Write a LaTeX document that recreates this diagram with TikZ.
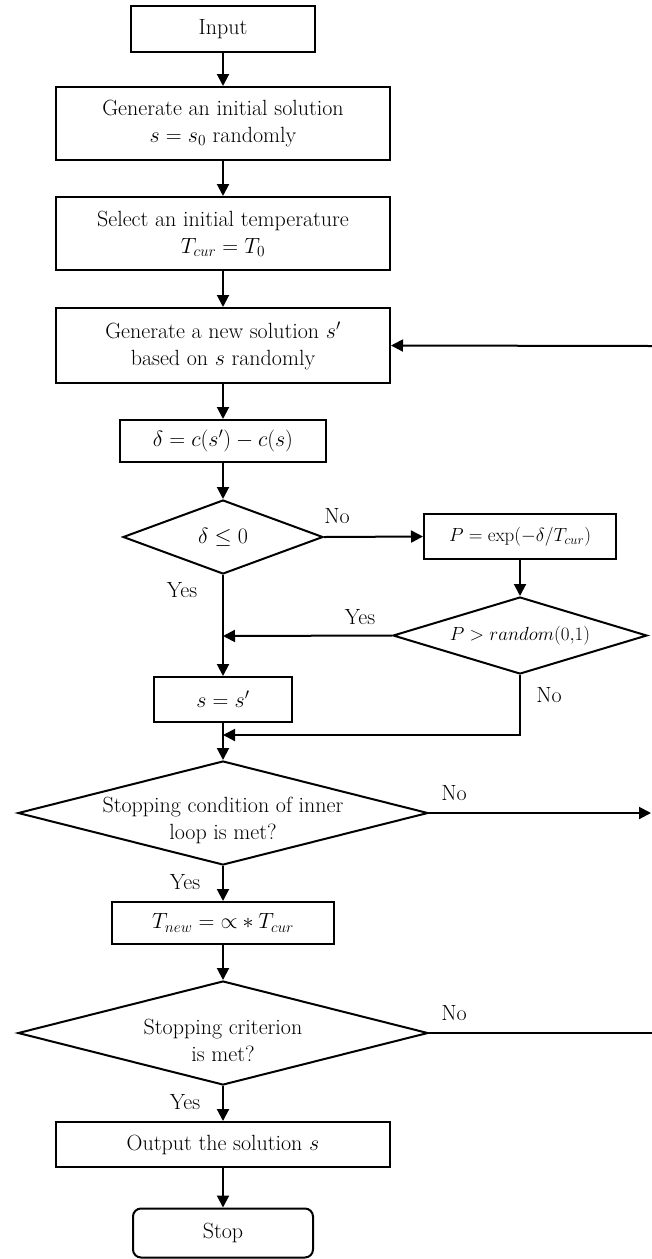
\documentclass[tikz,border=0pt]{standalone}
\usepackage{fix-cm}
\usepackage{fontspec}
\usetikzlibrary{arrows.meta,shapes.geometric}
\newcommand{\fs}{\fontsize{22}{27}\selectfont}
\newcommand{\fss}{\fontsize{19}{22}\selectfont}
\begin{document}
\begin{tikzpicture}[x=1pt,y=-1pt,line width=2pt,
  >={Triangle[length=12pt,width=12pt]},
  box/.style={draw,rectangle,inner sep=0pt,align=center,font=\fs},
  dia/.style={draw,diamond,inner sep=0pt},
  lbl/.style={font=\fs,inner sep=0pt,align=center},
  arr/.style={->}]
\useasboundingbox (0,0) rectangle (652,1259);
% nodes
\node[box,minimum width=184pt,minimum height=46pt] (input) at (223,29) {Input};
\node[box,minimum width=334pt,minimum height=73pt] (gen0) at (223,123.5) {Generate an initial solution\\ $s=s_0$ randomly};
\node[box,minimum width=334pt,minimum height=73pt] (sel) at (223,233.5) {Select an initial temperature\\ $T_{cur}=T_0$};
\node[box,minimum width=334pt,minimum height=75pt] (gen) at (223,345.5) {Generate a new solution $s'$\\ based on $s$ randomly};
\node[box,minimum width=206pt,minimum height=42pt] (delta) at (223,441) {$\delta=c(s')-c(s)$};
\node[dia,minimum width=200pt,minimum height=74pt] (d1) at (223,537) {};
\node[lbl] (t1) at (d1.center) {$\delta\le 0$};
\node[box,font=\fss,minimum width=192pt,minimum height=45pt] (pbox) at (520,536.5) {$P=\exp(-\delta/T_{cur})$};
\node[dia,minimum width=254pt,minimum height=77pt] (d2) at (520,635.5) {};
\node[lbl,font=\fss] (t2) at (d2.center) {$P>random(0{,}1)$};
\node[box,minimum width=138pt,minimum height=45pt] (ss) at (223,699.5) {$s=s'$};
\node[dia,minimum width=410pt,minimum height=104pt] (d3) at (223,813) {};
\node[lbl] (t3) at ([yshift=-7pt]d3.center) {Stopping condition of inner\\ loop is met?};
\node[box,minimum width=222pt,minimum height=42pt] (tnew) at (223,923) {$T_{new}={\propto}\ast T_{cur}$};
\node[dia,minimum width=410pt,minimum height=104pt] (d4) at (223,1033) {};
\node[lbl] (t4) at ([yshift=-7pt]d4.center) {Stopping criterion\\ is met?};
\node[box,minimum width=334pt,minimum height=45pt] (out) at (223,1144.5) {Output the solution $s$};
\node[box,rounded corners=8pt,minimum width=180pt,minimum height=49pt] (stop) at (223,1233) {Stop};
% free ends
\coordinate (m0) at (223,636);
\coordinate (m1) at (223,735);
\coordinate (r1) at (651,813);
\coordinate (r2) at (652,346);
\coordinate (r3) at (652,1033);
% connectors
\draw[arr] (input) -- (gen0);
\draw[arr] (gen0) -- (sel);
\draw[arr] (sel) -- (gen);
\draw[arr] (gen) -- (delta);
\draw[arr] (delta) -- (d1.north);
\draw[arr] (d1.east) -- (pbox.west);
\draw[arr] (pbox.south) -- (d2.north);
\draw[arr] (d2.west) -- (m0);
\draw[arr] (d1.south) -- (ss.north);
\draw[arr] (d2.south) |- (m1);
\draw[arr] (ss.south) -- (d3.north);
\draw[arr] (d3.east) -- (r1);
\draw[arr] (r2) -- (gen.east);
\draw[arr] (d3.south) -- (tnew.north);
\draw[arr] (tnew.south) -- (d4.north);
\draw (d4.east) -- (r3);
\draw[arr] (d4.south) -- (out.north);
\draw[arr] (out.south) -- (stop.north);
% labels
\node[lbl] (l1) at (337,516) {No};
\node[lbl] (l2) at (182,590) {Yes};
\node[lbl] (l3) at (360,617) {Yes};
\node[lbl] (l4) at (549,695) {No};
\node[lbl] (l5) at (454,793) {No};
\node[lbl] (l6) at (185,882) {Yes};
\node[lbl] (l7) at (454,1013) {No};
\node[lbl] (l8) at (185,1102) {Yes};
\end{tikzpicture}
\end{document}
